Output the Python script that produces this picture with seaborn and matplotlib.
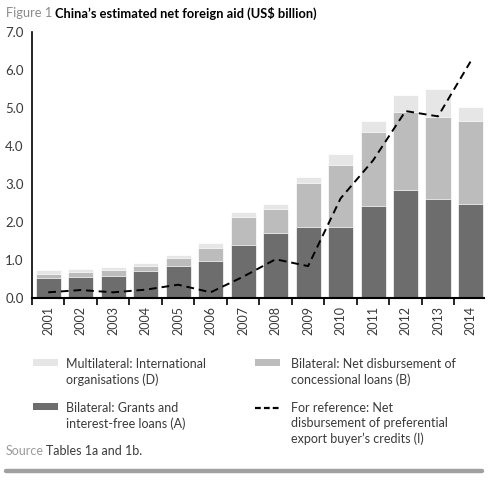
import numpy as np
import pandas as pd
import seaborn as sns
import matplotlib.pyplot as plt
from matplotlib.patches import Rectangle
from matplotlib.lines import Line2D

# values (US$ billion)
years = ['2001', '2002', '2003', '2004', '2005', '2006', '2007',
         '2008', '2009', '2010', '2011', '2012', '2013', '2014']
grants_a = [0.53, 0.55, 0.59, 0.70, 0.85, 0.98, 1.39, 1.70, 1.86, 1.86, 2.43, 2.85, 2.61, 2.48]
loans_b = [0.11, 0.14, 0.15, 0.14, 0.19, 0.34, 0.73, 0.63, 1.17, 1.65, 1.95, 2.04, 2.16, 2.18]
multi_d = [0.10, 0.08, 0.07, 0.09, 0.10, 0.14, 0.14, 0.15, 0.16, 0.29, 0.28, 0.45, 0.74, 0.36]
export_i = [0.15, 0.21, 0.15, 0.22, 0.35, 0.15, 0.56, 1.02, 0.84, 2.62, 3.62, 4.92, 4.78, 6.22]

legend_labels = ['Multilateral: International\norganisations (D)',
                 'Bilateral: Net disbursement of\nconcessional loans (B)',
                 'Bilateral: Grants and\ninterest-free loans (A)',
                 'For reference: Net\ndisbursement of preferential\nexport buyer\u2019s credits (I)']

DARK = '#6d6d6d'
MID = '#bcbcbc'
LIGHT = '#e6e6e6'
TXT = '#3a3a3a'
W, H = 490, 482

df = pd.DataFrame({'year': years, 'A': grants_a, 'B': loans_b, 'D': multi_d, 'I': export_i})
df['AB'] = df['A'] + df['B']
df['ABD'] = df['AB'] + df['D']

sns.set_theme(style='white')
plt.rcParams['font.family'] = ['Lato', 'DejaVu Sans']

fig = plt.figure(figsize=(W / 100, H / 100), dpi=100)
ax = fig.add_axes([0.0653, 0.3817, 0.9227, 0.5519])

# stacked bars: draw cumulative totals back to front
bar_kw = dict(width=0.77, edgecolor='white', linewidth=0.5, saturation=1)
sns.barplot(data=df, x='year', y='ABD', color=LIGHT, ax=ax, **bar_kw)
sns.barplot(data=df, x='year', y='AB', color=MID, ax=ax, **bar_kw)
sns.barplot(data=df, x='year', y='A', color=DARK, ax=ax, **bar_kw)

sns.lineplot(x=np.arange(len(years)), y=df['I'], ax=ax, color='black',
             linewidth=1.4, linestyle=(0, (4, 2.5)))

ax.set_ylim(0, 7)
ax.set_xlim(-0.5, 13.42)
ax.set_yticks(np.arange(0, 8, 1))
ax.set_yticklabels([f'{v:.1f}' for v in range(8)], fontsize=9.5, color=TXT)
ax.set_xticks(np.arange(len(years)))
ax.set_xticklabels(years, rotation=90, fontsize=9, color=TXT)
ax.set_xticks(np.arange(len(years)) - 0.5, minor=True)
ax.tick_params(axis='x', which='major', length=0, pad=6)
ax.tick_params(axis='x', which='minor', length=5, width=1.2, color='black', direction='out', bottom=True)
ax.tick_params(axis='y', length=0, pad=6)
ax.set_xlabel('')
ax.set_ylabel('')
for s in ['top', 'right']:
    ax.spines[s].set_visible(False)
ax.spines['left'].set_color('black')
ax.spines['left'].set_linewidth(1.2)
ax.spines['bottom'].set_color('black')
ax.spines['bottom'].set_linewidth(1.5)


def fx(px):
    return px / W


def fy(py):
    return 1 - py / H


# title
fig.text(fx(6), fy(13), 'Figure 1', fontsize=9.3, color='#8a8a8a', va='center')
fig.text(fx(55), fy(13), 'China\u2019s estimated net foreign aid (US$ billion)',
         fontsize=9.3, color='black', fontweight='bold', va='center')

# legend, drawn by hand so the keys line up with the first text line
leg_fs = 9
key_x = [33, 255]
text_x = [66, 291]
row_y = [362, 406]
kinds = ['patch', 'patch', 'patch', 'line']
colors = [LIGHT, MID, DARK, 'black']
for i, (lab, kind, col) in enumerate(zip(legend_labels, kinds, colors)):
    c, r = i % 2, i // 2
    if kind == 'patch':
        fig.add_artist(Rectangle((fx(key_x[c]), fy(row_y[r] + 3.5)), 25 / W, 7 / H,
                                 facecolor=col, edgecolor='none', transform=fig.transFigure))
    else:
        fig.add_artist(Line2D([fx(key_x[c]), fx(key_x[c] + 26)], [fy(row_y[r] + 1.5)] * 2,
                              color=col, linewidth=1.6, linestyle=(0, (2.6, 1.4))))
    fig.text(fx(text_x[c]), fy(row_y[r] - 4), lab, fontsize=leg_fs, color=TXT,
             va='top', linespacing=1.3)

# source
fig.text(fx(6), fy(451), 'Source', fontsize=leg_fs, color='#9a9a9a', va='center')
fig.text(fx(46), fy(451), 'Tables 1a and 1b.', fontsize=leg_fs, color=TXT, va='center')

# bottom rule
fig.add_artist(Line2D([fx(6), fx(482)], [fy(470.5)] * 2, color='#a0a0a0', linewidth=3.2))

fig.savefig('out.png', dpi=100)
